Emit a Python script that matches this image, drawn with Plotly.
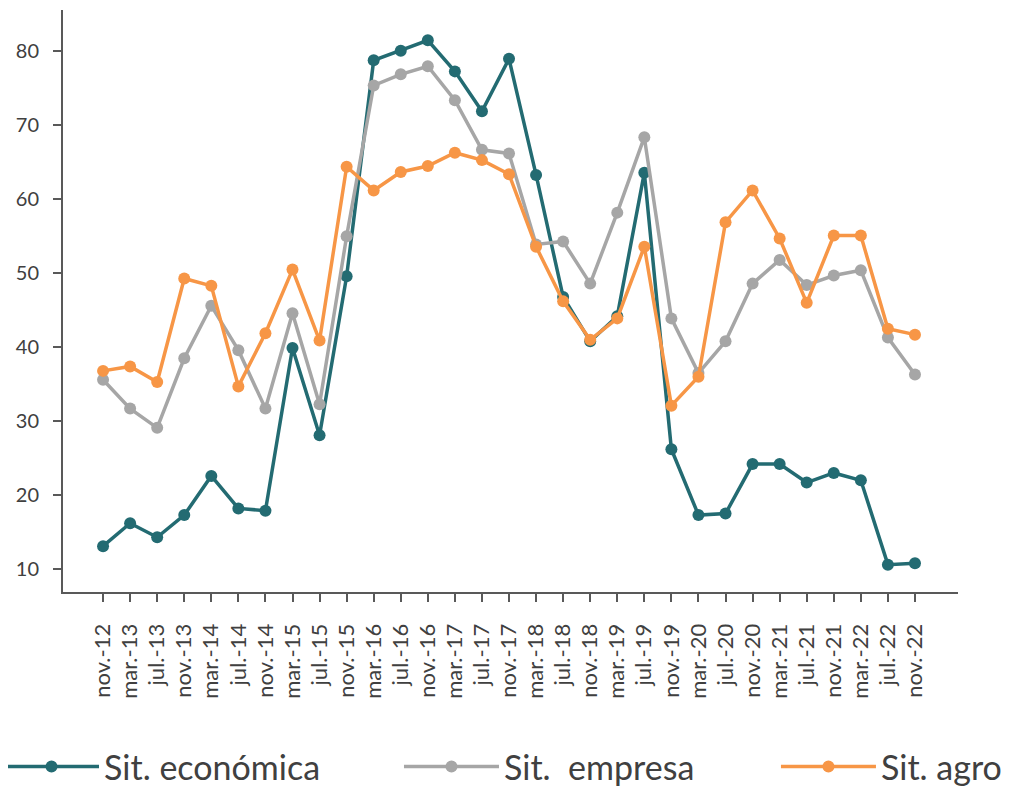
import plotly.graph_objects as go

categories = ["nov.-12", "mar.-13", "jul.-13", "nov.-13", "mar.-14", "jul.-14", "nov.-14",
              "mar.-15", "jul.-15", "nov.-15", "mar.-16", "jul.-16", "nov.-16", "mar.-17",
              "jul.-17", "nov.-17", "mar.-18", "jul.-18", "nov.-18", "mar.-19", "jul.-19",
              "nov.-19", "mar.-20", "jul.-20", "nov.-20", "mar.-21", "jul.-21", "nov.-21",
              "mar.-22", "jul.-22", "nov.-22"]

sit_economica = [13.1, 16.2, 14.3, 17.3, 22.6, 18.2, 17.9, 39.9, 28.1, 49.6, 78.8, 80.1, 81.5,
                 77.3, 71.9, 79.0, 63.3, 46.8, 40.8, 44.2, 63.6, 26.2, 17.3, 17.5, 24.2, 24.2,
                 21.7, 23.0, 22.0, 10.6, 10.8]
sit_empresa = [35.6, 31.7, 29.1, 38.5, 45.6, 39.6, 31.7, 44.6, 32.3, 55.0, 75.4, 76.9, 78.0,
               73.4, 66.7, 66.2, 53.9, 54.3, 48.6, 58.2, 68.4, 43.9, 36.5, 40.8, 48.6, 51.8,
               48.4, 49.7, 50.4, 41.3, 36.3]
sit_agro = [36.8, 37.4, 35.3, 49.3, 48.3, 34.7, 41.9, 50.5, 40.9, 64.4, 61.2, 63.7, 64.5, 66.3,
            65.3, 63.4, 53.6, 46.2, 41.0, 43.9, 53.6, 32.1, 36.0, 56.9, 61.2, 54.7, 46.0, 55.1,
            55.1, 42.5, 41.7]

series = [
    ("Sit. económica", sit_economica, "#236b72", "legend"),
    ("Sit.  empresa", sit_empresa, "#a6a6a6", "legend2"),
    ("Sit. agro", sit_agro, "#f79646", "legend3"),
]

font_family = "Lato, Open Sans, sans-serif"
text_color = "#404040"

fig = go.Figure()
for name, vals, color, leg in series:
    fig.add_trace(go.Scatter(
        x=categories, y=vals, name=name, mode="lines+markers",
        line=dict(color=color, width=3.5),
        marker=dict(color=color, size=12),
        legend=leg,
    ))

legend_common = dict(orientation="h", yanchor="middle", y=-0.3007, xanchor="left",
                     font=dict(size=34, color=text_color, family=font_family),
                     itemwidth=95, bgcolor="rgba(0,0,0,0)", borderwidth=0)

fig.update_layout(
    width=1004, height=782,
    margin=dict(l=55, r=54, t=2, b=198, autoexpand=False),
    paper_bgcolor="white", plot_bgcolor="white",
    font=dict(family=font_family, color=text_color, size=20),
    showlegend=True,
    legend=dict(x=-0.0715, **legend_common),
    legend2=dict(x=0.3754, **legend_common),
    legend3=dict(x=0.7966, **legend_common),
)
fig.update_xaxes(
    type="category", range=[-1.48, 31.59], automargin=False,
    showline=True, linecolor="#595959", linewidth=2,
    ticks="outside", ticklen=8, tickcolor="#595959", tickwidth=1.5,
    ticklabelstandoff=13,
    tickangle=-90, tickfont=dict(size=22, color=text_color, family=font_family),
    showgrid=False, zeroline=False,
)
fig.update_yaxes(
    range=[6.9, 85.6], tickvals=[10, 20, 30, 40, 50, 60, 70, 80], automargin=False,
    showline=True, linecolor="#595959", linewidth=2,
    ticks="outside", ticklen=8, tickcolor="#595959", tickwidth=1.5,
    ticklabelstandoff=10,
    tickfont=dict(size=20, color=text_color, family=font_family),
    showgrid=False, zeroline=False,
)

fig.write_html("out.html")
